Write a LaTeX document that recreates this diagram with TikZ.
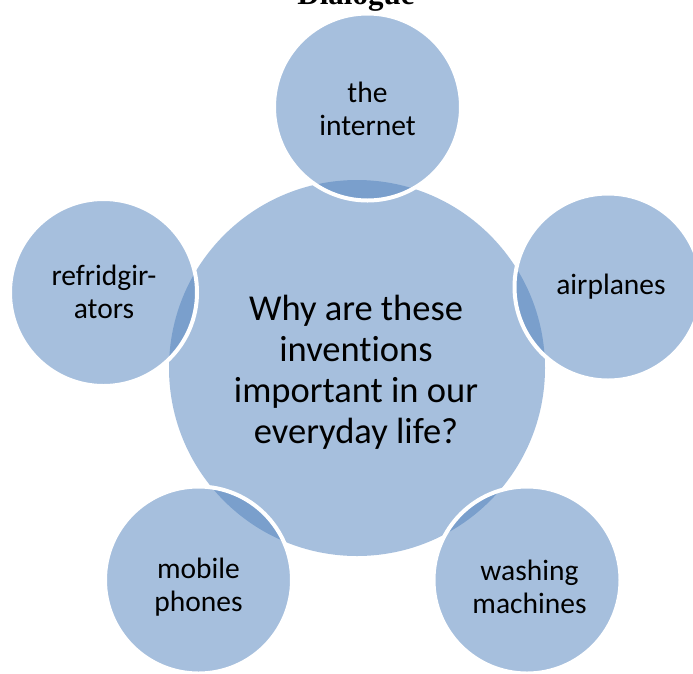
\documentclass[tikz,border=0pt]{standalone}
\usepackage{fontspec}
\setmainfont{Carlito}[Ligatures=NoCommon]
\newfontfamily\titlefont{Liberation Serif}
\definecolor{accentblue}{HTML}{4F81BD}
\begin{document}
\begin{tikzpicture}[x=1pt,y=-1pt,
  bubble/.style={fill=accentblue, fill opacity=0.5, draw=white, line width=4pt},
  hub/.style={fill=accentblue, fill opacity=0.5},
  outertext/.style={align=center, text=black, font=\fontsize{29.5}{32.5}\selectfont, inner sep=0pt},
  centertext/.style={align=center, text=black, font=\fontsize{36.5}{41}\selectfont, inner sep=0pt}]
\useasboundingbox (0,0) rectangle (693,673);
\fill[white] (0,0) rectangle (693,673);
% central circle
\path[hub] (357,368) circle (188);
% outer circles
\path[bubble] (367.5,107) circle (93.5);
\path[bubble] (608,287) circle (93.5);
\path[bubble] (103.5,292.5) circle (93.5);
\path[bubble] (198.5,580) circle (93.5);
\path[bubble] (527,580) circle (93.5);
% texts
\node[anchor=base, inner sep=0pt, font=\titlefont\bfseries\fontsize{31}{36}\selectfont] (title) at (356,4) {Dialogue};
\node[centertext] (center) at (356,372) {Why are these\\inventions\\important in our\\everyday life?};
\node[outertext] (t1) at (367.5,109) {the\\internet};
\node[outertext] (t2) at (611,287) {airplanes};
\node[outertext] (t3) at (104,292) {refridgir-\\ators};
\node[outertext] (t4) at (198.5,587) {mobile\\phones};
\node[outertext] (t5) at (529.5,587) {washing\\machines};
\end{tikzpicture}
\end{document}
